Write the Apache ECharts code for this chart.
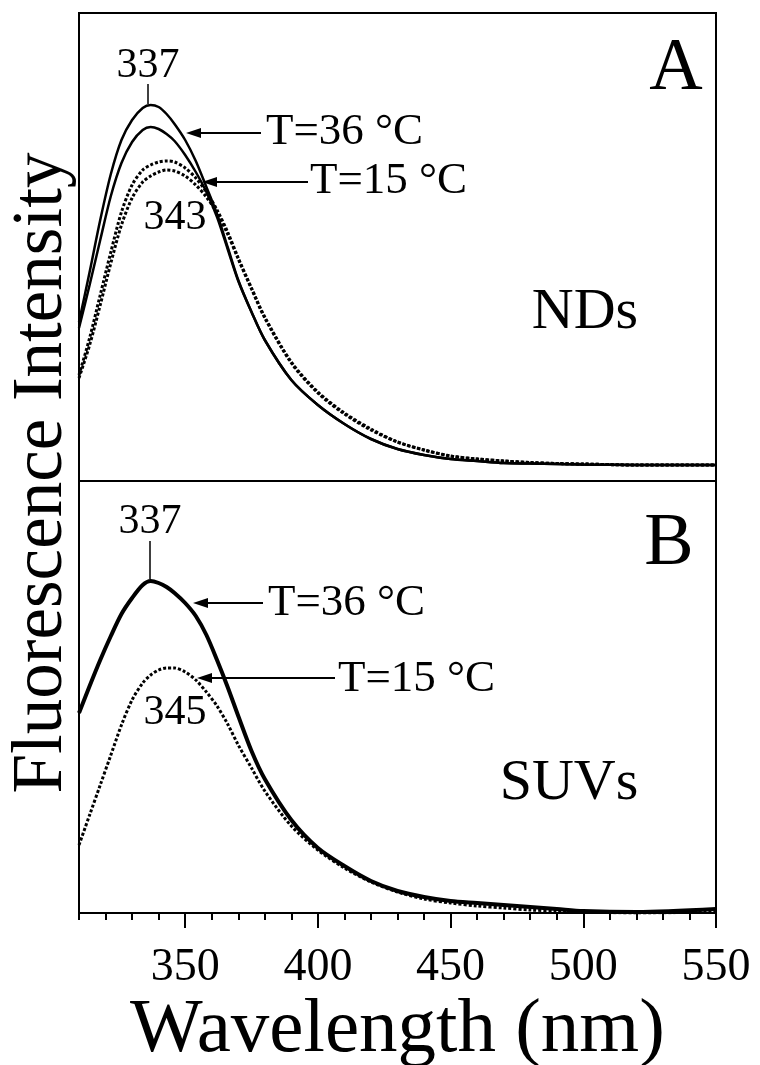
<!DOCTYPE html>
<html style="height: 100%">
<head>
    <meta charset="utf-8">
    <script src="https://cdn.jsdelivr.net/npm/echarts@6/dist/echarts.min.js"></script>
</head>
<body style="height: 100%; margin: 0; background: #fff">
    <div id="main" style="width: 760px; height: 1065px;"></div>
    <script type="text/javascript">
        // wavelength grid (nm)
        var wavelength = [310, 314, 318, 322, 326, 330, 334, 337, 340, 343, 346, 350, 354, 358, 362, 366, 370, 375, 380, 390, 400, 410, 420, 430, 440, 450, 460, 470, 480, 490, 500, 520, 550];

        // panel A : nanodiscs (a.u.)
        var ndsT36a = [159, 209, 261, 307, 341, 361, 373, 376, 374, 367, 357, 341, 320, 294, 267, 234, 201, 169, 141, 101, 76, 57, 42, 32, 26, 22, 20, 18, 17.5, 17, 16.5, 16, 16];
        var ndsT36b = [153, 196, 241, 285, 318, 339, 351, 354, 352, 347, 340, 326, 309, 289, 264, 232, 200, 169, 141, 101, 76, 57, 42, 32, 26, 22, 20, 18, 17.5, 17, 16.5, 16, 16];
        var ndsT15a = [106, 143, 186, 229, 269, 296, 311, 316, 319, 320, 319, 313, 303, 289, 271, 249, 223, 193, 164, 119, 89, 68, 52, 39, 31, 25, 22, 20, 18.5, 17.5, 17, 16, 16];
        var ndsT15b = [103, 136, 176, 218, 256, 283, 299, 305, 309, 311, 310, 305, 296, 284, 268, 247, 222, 192, 163, 118, 88, 67, 51, 39, 31, 25, 22, 20, 18.5, 17.5, 17, 16, 16];

        // panel B : small unilamellar vesicles (a.u.)
        var suvT36 = [200, 227, 253, 277, 299, 315, 328, 332, 330, 326, 320, 310, 297, 278, 253, 226, 197, 162, 134, 93, 65, 47, 32, 22, 16, 12, 10, 8, 6, 4, 2, 1, 4];
        var suvT15 = [68, 98, 128, 158, 188, 213, 230, 238, 243, 245, 245, 241, 233, 221, 207, 189, 168, 145, 122, 87, 63, 45, 31, 21, 14, 10, 7, 5, 3, 2, 1, 0, 1];

        var tickLabels = [350, 400, 450, 500, 550];

        var serif = 'Liberation Serif';
        var myChart = echarts.init(document.getElementById('main'));

        function pairs(ys) {
            return wavelength.map(function (w, i) { return [w, ys[i]]; });
        }

        function curve(name, ys, idx, width, dotted) {
            return {
                name: name,
                type: 'line',
                xAxisIndex: idx,
                yAxisIndex: idx,
                data: pairs(ys),
                showSymbol: false,
                smooth: 0.3,
                lineStyle: { color: '#000', width: width, type: dotted ? [3, 2] : 'solid' }
            };
        }

        function txt(x, y, s, size, align) {
            return {
                type: 'text', x: x, y: y,
                style: { text: s, fill: '#000', font: size + 'px "' + serif + '"', textAlign: align || 'center', textVerticalAlign: 'middle' }
            };
        }

        function arrow(tip, tail, y) {
            return [{
                type: 'line', shape: { x1: tip + 8, y1: y, x2: tail, y2: y },
                style: { stroke: '#000', lineWidth: 2 }
            }, {
                type: 'polygon', shape: { points: [[tip, y], [tip + 15, y - 5], [tip + 15, y + 5]] },
                style: { fill: '#000' }
            }];
        }

        function vline(x, y1, y2) {
            return { type: 'line', shape: { x1: x, y1: y1, x2: x, y2: y2 }, style: { stroke: '#000', lineWidth: 1.5 } };
        }

        var graphics = [
            {
                type: 'text', x: 42, y: 473, rotation: Math.PI / 2,
                style: { text: 'Fluorescence Intensity', fill: '#000', font: '71px "' + serif + '"', textAlign: 'center', textVerticalAlign: 'middle' }
            },
            // panel A
            txt(676, 70, 'A', 74),
            txt(148, 66, '337', 42),
            vline(148, 84, 104),
            txt(266, 132, 'T=36 °C', 45, 'left'),
            txt(310, 181, 'T=15 °C', 45, 'left'),
            txt(175, 218, '343', 42),
            txt(585, 313, 'NDs', 58),
            // panel B
            txt(669, 545, 'B', 74),
            txt(150, 522, '337', 42),
            vline(150, 541, 579),
            txt(268, 603, 'T=36 °C', 45, 'left'),
            txt(338, 679, 'T=15 °C', 45, 'left'),
            txt(175, 713, '345', 42),
            txt(569, 784, 'SUVs', 58)
        ].concat(arrow(186, 261, 133), arrow(202, 308, 182), arrow(193, 263, 603), arrow(197, 335, 678));

        var option = {
            animation: false,
            backgroundColor: '#fff',
            grid: [
                { left: 79, top: 13, width: 637, height: 468, show: true, borderColor: '#000', borderWidth: 2, outerBoundsMode: 'none' },
                { left: 79, top: 481, width: 637, height: 432, outerBoundsMode: 'none' },
                // only carries the long ticks at 350, 400, ... 550
                { left: 79 + 40 * 637 / 240, top: 481, width: 200 * 637 / 240, height: 432, outerBoundsMode: 'none' }
            ],
            xAxis: [
                { gridIndex: 0, type: 'value', min: 310, max: 550, show: false },
                {
                    gridIndex: 1, type: 'value', min: 310, max: 550, interval: 10, offset: 4,
                    axisLine: { lineStyle: { color: '#000', width: 2 } },
                    axisTick: { inside: false, length: 7, lineStyle: { color: '#000', width: 2 } },
                    axisLabel: {
                        color: '#000', fontFamily: serif, fontSize: 46, margin: 28,
                        formatter: function (v) { return tickLabels.indexOf(v) >= 0 ? String(v) : ''; }
                    },
                    splitLine: { show: false },
                    name: 'Wavelength (nm)', nameLocation: 'middle', nameGap: 70,
                    nameTextStyle: { color: '#000', fontFamily: serif, fontSize: 77 }
                },
                {
                    gridIndex: 2, type: 'value', min: 350, max: 550, interval: 50, offset: 4,
                    axisLine: { show: false },
                    axisTick: { inside: false, length: 15, lineStyle: { color: '#000', width: 2 } },
                    axisLabel: { show: false },
                    splitLine: { show: false }
                }
            ],
            yAxis: [
                { gridIndex: 0, type: 'value', min: 0, max: 468, show: false },
                {
                    gridIndex: 1, type: 'value', min: 0, max: 432, position: 'left',
                    axisLine: { show: true, lineStyle: { color: '#000', width: 2 } },
                    axisTick: { show: false }, axisLabel: { show: false }, splitLine: { show: false }
                },
                {
                    gridIndex: 1, type: 'value', min: 0, max: 432, position: 'right',
                    axisLine: { show: true, lineStyle: { color: '#000', width: 2 } },
                    axisTick: { show: false }, axisLabel: { show: false }, splitLine: { show: false }
                },
                { gridIndex: 2, type: 'value', min: 0, max: 432, show: false }
            ],
            series: [
                curve('NDs 36 °C a', ndsT36a, 0, 2.5, false),
                curve('NDs 36 °C b', ndsT36b, 0, 2.5, false),
                curve('NDs 15 °C a', ndsT15a, 0, 3, true),
                curve('NDs 15 °C b', ndsT15b, 0, 3, true),
                curve('SUVs 36 °C', suvT36, 1, 4, false),
                curve('SUVs 15 °C', suvT15, 1, 3, true)
            ],
            graphic: graphics
        };

        myChart.setOption(option);
    </script>
</body>
</html>
